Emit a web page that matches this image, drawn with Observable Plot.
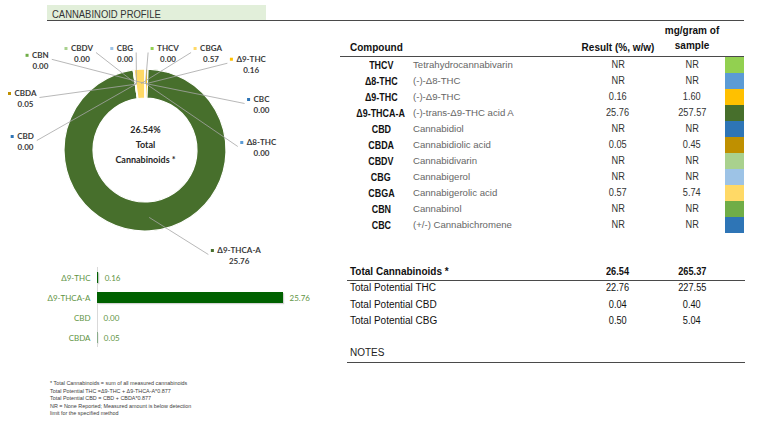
<!DOCTYPE html>
<html><head><meta charset="utf-8">
<script src="https://cdn.jsdelivr.net/npm/d3@7"></script>
<script src="https://cdn.jsdelivr.net/npm/@observablehq/plot@0.6"></script>
<style>
html,body{margin:0;padding:0;background:#fff;}
#page{position:relative;width:776px;height:425px;overflow:hidden;font-family:"Liberation Sans",Arial,sans-serif;color:#222;}
.abs{position:absolute;}
#title{left:47px;top:5px;width:219px;height:15px;background:#e2efda;line-height:16px;padding-left:5px;box-sizing:border-box;}
#title span{display:inline-block;font-size:11px;color:#333;transform:scaleX(0.86);transform-origin:left center;}
.hr{position:absolute;height:0;border-top:1.5px solid #4a4a4a;}
.row{position:absolute;left:0;height:16px;line-height:16px;white-space:nowrap;}
.cell{position:absolute;top:0;}
.code{font-weight:bold;font-size:10.5px;text-align:center;color:#111;}
.code span{display:inline-block;transform:scaleX(0.85);}
.nm{font-size:9.6px;color:#666;}
.num{font-size:10px;text-align:center;color:#333;}
.num span{display:inline-block;transform:scaleX(0.92);}
.hdr{font-weight:bold;color:#111;}
#notes{left:50px;top:380px;font-size:5.4px;line-height:7.5px;color:#404040;}
</style></head>
<body><div id="page">
<div id="title" class="abs"><span>CANNABINOID PROFILE</span></div>
<div class="hr" style="left:47px;top:20px;width:697px;"></div>
<div id="donut" class="abs" style="left:0;top:30px;"></div>
<div id="bars" class="abs" style="left:0;top:262px;"></div>
<div id="table" class="abs" style="left:0;top:0;width:776px;height:425px;"></div>
<div id="swatch" class="abs" style="left:725px;top:57px;"></div>
<div id="notes" class="abs"></div>
</div>
<script>
// ---------- data ----------
const compounds = ["THCV","Δ8-THC","Δ9-THC","Δ9-THCA-A","CBD","CBDA","CBDV","CBG","CBGA","CBN","CBC"];
const fullNames = ["Tetrahydrocannabivarin","(-)-Δ8-THC","(-)-Δ9-THC","(-)-trans-Δ9-THC acid A","Cannabidiol","Cannabidiolic acid","Cannabidivarin","Cannabigerol","Cannabigerolic acid","Cannabinol","(+/-) Cannabichromene"];
const resultPct = [0, 0, 0.16, 25.76, 0, 0.05, 0, 0, 0.57, 0, 0];           // 0 = NR
const mgPerGram = [null, null, 1.60, 257.57, null, 0.45, null, null, 5.74, null, null];
const compoundColors = ["#92d050","#5b9bd5","#ffc000","#476f2c","#2e75b6","#bf9000","#a9d18e","#9dc3e6","#ffd966","#70ad47","#2e75b6"];
const totalLabels = ["Total Cannabinoids *","Total Potential THC","Total Potential CBD","Total Potential CBG"];
const totalPct = [26.54, 22.76, 0.04, 0.50];
const totalMg = [265.37, 227.55, 0.40, 5.04];
const barCompounds = ["Δ9-THC","Δ9-THCA-A","CBD","CBDA"];
const barValues = [0.16, 25.76, 0.00, 0.05];
const labelOrder = ["CBD","CBDA","CBN","CBDV","CBG","THCV","CBGA","Δ9-THC","CBC","Δ8-THC"];
const footnotes = [
  "* Total Cannabinoids = sum of all measured cannabinoids",
  "Total Potential THC =Δ9-THC + Δ9-THCA-A*0.877",
  "Total Potential CBD = CBD + CBDA*0.877",
  "NR = None Reported; Measured amount is below detection",
  "limit for the specified method"
];

// ---------- helpers ----------
const ctx = document.createElement("canvas").getContext("2d");
function textW(s, font){ ctx.font = font; return ctx.measureText(s).width; }
const fmt = v => v == null || v === 0 ? "NR" : v.toFixed(2);

const rows = compounds.map((name, i) => ({name, full: fullNames[i], pct: resultPct[i], mg: mgPerGram[i]}));

// ---------- donut ----------
const R_OUT = 81, R_IN = 52, R_MID = 67;
const arcs = d3.pie().sort(null).value(d => d.pct)(rows);
const arcByName = new Map(arcs.map(a => [a.data.name, a]));
const mid = a => (a.startAngle + a.endAngle) / 2;

function framePoints(n, f){
  const {left, right, top, startY, endY, r} = f;
  const segs = [
    {len: top - r - startY, at: t => [left, startY + t]},
    {len: Math.PI * r / 2, at: t => { const a = t / r; return [left + r - r * Math.cos(a), top - r + r * Math.sin(a)]; }},
    {len: right - left - 2 * r, at: t => [left + r + t, top]},
    {len: Math.PI * r / 2, at: t => { const a = t / r; return [right - r + r * Math.sin(a), top - r + r * Math.cos(a)]; }},
    {len: top - r - endY, at: t => [right, top - r - t]}
  ];
  const total = d3.sum(segs, s => s.len);
  return d3.range(n).map(i => {
    let s = i * total / (n - 1);
    for (const g of segs){ if (s <= g.len + 1e-9) return g.at(s); s -= g.len; }
    const g = segs[segs.length - 1]; return g.at(g.len);
  });
}
const labelFont = "bold 8px Lato";
const pts = framePoints(labelOrder.length, {left: -120, right: 116, top: 102, startY: 14, endY: 8, r: 36});
const labels = labelOrder.map((name, i) => ({name, lx: pts[i][0], ly: pts[i][1]}));
// largest slice label below-right
const big = arcs.reduce((a, b) => (b.value > a.value ? b : a));
{
  const a = mid(big) - 40 * Math.PI / 180;
  const t = -100 / Math.cos(a);
  labels.push({name: big.data.name, lx: t * Math.sin(a), ly: -100});
}
for (const L of labels){
  const a = arcByName.get(L.name);
  L.pct = a.data.pct;
  L.w = textW(L.name, labelFont);
  L.mx = L.lx - L.w / 2 - 5;
  L.ex = R_MID * Math.sin(mid(a));
  L.ey = R_MID * Math.cos(mid(a));
  L.px = L.lx < 0 ? L.lx + L.w / 2 + 3 : L.lx - L.w / 2 - 9;
  L.py = L.ly - 4;
}
const centerText = [
  {t: totalPct[0].toFixed(2) + "%", y: 20},
  {t: "Total", y: 5},
  {t: "Cannabinoids *", y: -10}
];

function slicesMark(index, scales){
  const sx = scales.x, sy = scales.y;
  const k = Math.abs(sx(1) - sx(0));
  const colorOf = scales.color || (n => compoundColors[compounds.indexOf(n)]);
  const arcGen = d3.arc().innerRadius(R_IN * k).outerRadius(R_OUT * k);
  const g = d3.create("svg:g").attr("transform", `translate(${sx(0)},${sy(0)})`);
  g.selectAll("path").data(arcs).join("path")
    .attr("d", arcGen)
    .attr("fill", d => colorOf(d.data.name))
    .attr("stroke", "#fff").attr("stroke-width", 1.2);
  return g.node();
}

const donut = Plot.plot({
  width: 330, height: 245, margin: 0,
  x: {domain: [-145, 185], axis: null},
  y: {domain: [-125, 120], axis: null},
  color: {domain: compounds, range: compoundColors},
  style: {fontFamily: "Lato, sans-serif", background: "transparent", overflow: "visible"},
  marks: [
    slicesMark,
    Plot.link(labels, {x1: "ex", y1: "ey", x2: "px", y2: "py", stroke: "#a6a6a6", strokeWidth: 0.8}),
    Plot.dot(labels, {x: "mx", y: "ly", fill: "name", symbol: "square", r: 1.7}),
    Plot.text(labels, {x: "lx", y: "ly", text: "name", fontWeight: "bold", fontSize: 8, fill: "#3a3a3a"}),
    Plot.text(labels, {x: "lx", y: d => d.ly - 11, text: d => d.pct.toFixed(2), fontWeight: "bold", fontSize: 8, fill: "#3a3a3a"}),
    Plot.text(centerText, {x: 0, y: "y", text: "t", fontWeight: "bold", fontSize: 9, fill: "#262626"})
  ]
});
document.getElementById("donut").append(donut);

// ---------- bar chart ----------
const barData = barCompounds.map((k, i) => ({k, v: barValues[i]}));
const barColor = "#5f9444";
const bars = Plot.plot({
  width: 340, height: 90, marginLeft: 97, marginRight: 57, marginTop: 5, marginBottom: 5,
  x: {domain: [0, d3.max(barValues)], axis: null},
  y: {domain: barCompounds, paddingInner: 0.45, paddingOuter: 0.225, axis: null},
  style: {fontFamily: "Lato, sans-serif", background: "transparent", overflow: "visible"},
  marks: [
    Plot.axisY({tickSize: 0, tickPadding: 7, fill: barColor, fontSize: 8, label: null}),
    Plot.barX(barData, {x: "v", y: "k", fill: "#808080", fillOpacity: 0.35, dx: 1.2, dy: 1.2}),
    Plot.ruleX([0], {stroke: "#d9d9d9"}),
    Plot.barX(barData, {x: "v", y: "k", fill: "#006100"}),
    Plot.text(barData, {x: "v", y: "k", text: d => d.v.toFixed(2), textAnchor: "start", dx: 6, fill: barColor, fontSize: 8})
  ]
});
document.getElementById("bars").append(bars);

// ---------- swatches ----------
const sw = Plot.plot({
  width: 19, height: 176, margin: 0,
  y: {domain: compounds, padding: 0, axis: null},
  color: {domain: compounds, range: compoundColors},
  marks: [Plot.cell(compounds, {y: d => d, fill: d => d, inset: 0})]
});
document.getElementById("swatch").append(sw);

// ---------- table (text) ----------
const T = d3.select("#table");
T.append("div").attr("class", "row hdr").style("top", "40px").style("font-size", "10px")
  .call(r => {
    r.append("div").attr("class", "cell").style("left", "350px").text("Compound");
    r.append("div").attr("class", "cell").style("left", "570px").style("width", "96px").style("text-align", "center").text("Result (%, w/w)");
  });
T.append("div").attr("class", "row hdr").style("top", "23px").style("font-size", "10px")
  .append("div").attr("class", "cell").style("left", "652px").style("width", "80px").style("text-align", "center").text("mg/gram of");
T.append("div").attr("class", "row hdr").style("top", "38px").style("font-size", "10px")
  .append("div").attr("class", "cell").style("left", "652px").style("width", "80px").style("text-align", "center").text("sample");
T.append("div").attr("class", "hr").style("left", "340px").style("top", "56px").style("width", "404px");

rows.forEach((d, i) => {
  const r = T.append("div").attr("class", "row").style("top", (57 + 16 * i) + "px");
  r.append("div").attr("class", "cell code").style("left", "340px").style("width", "82px").append("span").text(d.name);
  r.append("div").attr("class", "cell nm").style("left", "413px").text(d.full);
  r.append("div").attr("class", "cell num").style("left", "580px").style("width", "76px").append("span").text(fmt(d.pct));
  r.append("div").attr("class", "cell num").style("left", "654px").style("width", "76px").append("span").text(fmt(d.mg));
});

const totalTops = [264, 280, 296.5, 313];
totalLabels.forEach((lab, i) => {
  const r = T.append("div").attr("class", "row").style("top", totalTops[i] + "px");
  const bold = i === 0;
  r.append("div").attr("class", "cell").style("left", "350px").style("font-size", "10px")
    .style("font-weight", bold ? "bold" : "normal").style("color", "#111").text(lab);
  r.append("div").attr("class", "cell num").style("left", "580px").style("width", "76px")
    .style("font-weight", bold ? "bold" : "normal").style("color", "#111").append("span").text(totalPct[i].toFixed(2));
  r.append("div").attr("class", "cell num").style("left", "654px").style("width", "76px")
    .style("font-weight", bold ? "bold" : "normal").style("color", "#111").append("span").text(totalMg[i].toFixed(2));
});
T.append("div").attr("class", "hr").style("left", "347px").style("top", "280px").style("width", "398px");
T.append("div").attr("class", "row").style("top", "345px")
  .append("div").attr("class", "cell").style("left", "350px").style("font-size", "10px").style("color", "#222").text("NOTES");
T.append("div").attr("class", "hr").style("left", "347px").style("top", "362px").style("width", "398px");

// ---------- footnotes ----------
d3.select("#notes").selectAll("div").data(footnotes).join("div").text(d => d);
</script>
</body></html>
